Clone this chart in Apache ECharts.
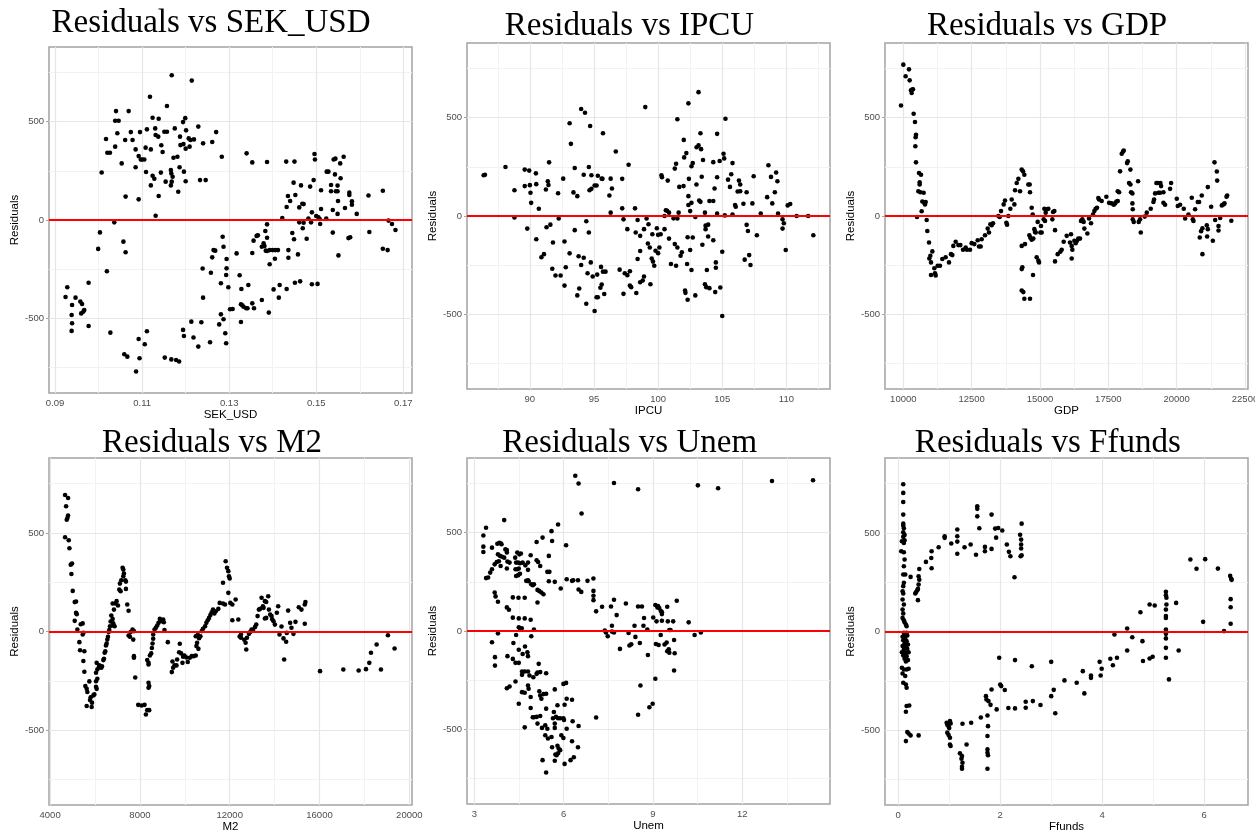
<!DOCTYPE html>
<html><head><meta charset="utf-8">
<script src="https://cdn.jsdelivr.net/npm/echarts@6/dist/echarts.min.js"></script>
<style>html,body{margin:0;padding:0;background:#fff}#c{width:1255px;height:832px}</style>
</head><body><div id="c"></div>
<script>
// ---------- DATA: [x value, residual] ----------
const sekUsdResid = [[0.1168,736],[0.1214,709],[0.1118,627],[0.1157,580],[0.1040,554],[0.1069,554],[0.1038,505],[0.1046,505],[0.1124,520],[0.1138,515],[0.1199,518],[0.1229,475],[0.1194,498],[0.1201,456],[0.1130,466],[0.1111,461],[0.1157,449],[0.1151,449],[0.1095,447],[0.1074,447],[0.1043,441],[0.1270,447],[0.1017,412],[0.1061,407],[0.1078,407],[0.1131,432],[0.1137,424],[0.1175,466],[0.1207,415],[0.1211,407],[0.1219,410],[0.1187,424],[0.1240,390],[0.1261,397],[0.1038,373],[0.1053,288],[0.1144,380],[0.1147,346],[0.1120,359],[0.1108,368],[0.1085,359],[0.1092,325],[0.1097,308],[0.1100,308],[0.1105,308],[0.1200,363],[0.1209,373],[0.1188,381],[0.1195,386],[0.1020,342],[0.1026,342],[0.1062,119],[0.1092,105],[0.1109,244],[0.1124,225],[0.1128,210],[0.1120,176],[0.1131,22],[0.1138,122],[0.1143,241],[0.1154,195],[0.1166,254],[0.1167,237],[0.1170,220],[0.1168,195],[0.1166,176],[0.1172,317],[0.1181,322],[0.1186,268],[0.1196,246],[0.1200,197],[0.1183,144],[0.1283,322],[0.1233,203],[0.1246,203],[0.1085,268],[0.1007,242],[0.1340,339],[0.1353,293],[0.1387,295],[0.1431,297],[0.1450,297],
[0.1496,336],[0.1497,308],[0.1544,312],[0.1540,308],[0.1563,322],[0.1524,246],[0.1528,246],[0.1543,232],[0.1555,288],[0.1556,212],[0.1494,203],[0.1448,190],[0.1534,178],[0.1549,175],[0.1465,176],[0.1486,170],[0.1511,151],[0.1534,146],[0.1545,146],[0.1549,146],[0.1576,139],[0.1576,127],[0.1620,125],[0.1653,149],[0.1435,122],[0.1452,127],[0.1440,97],[0.1550,97],[0.1582,95],[0.1582,78],[0.1468,83],[0.1471,81],[0.1432,66],[0.1461,64],[0.1538,51],[0.1549,31],[0.1566,61],[0.1593,31],[0.1511,56],[0.1490,39],[0.1500,20],[0.1505,14],[0.1508,5],[0.1523,8],[0.1422,10],[0.1482,8],[0.1461,-12],[0.1471,-14],[0.1488,-12],[0.1509,-20],[0.1387,-22],[0.1666,-3],[0.1674,-20],[0.1682,-51],[0.1622,-61],[0.1538,-64],[0.1469,-42],[0.1445,-66],[0.1478,-95],[0.1574,-92],[0.1578,-88],[0.1449,-98],[0.1383,-56],[0.1387,-90],[0.1363,-81],[0.1366,-78],[0.1356,-105],[0.1353,-168],[0.1379,-119],[0.1381,-132],[0.1375,-136],[0.1384,-156],[0.1387,-158],[0.1393,-153],[0.1400,-153],[0.1406,-153],[0.1412,-153],[0.1436,-153],[0.1436,-192],[0.1458,-175],[0.1551,-180],[0.1653,-146],[0.1664,-153],[0.1405,-197],[0.1393,-225],
[0.1264,-153],[0.1268,-156],[0.1285,-85],[0.1287,-136],[0.1261,-190],[0.1258,-268],[0.1294,-198],[0.1294,-246],[0.1293,-280],[0.1298,-342],[0.1281,-322],[0.1317,-170],[0.1324,-281],[0.1328,-351],[0.1344,-331],[0.1342,-449],[0.1239,-247],[0.1240,-395],[0.1302,-454],[0.1308,-453],[0.1327,-429],[0.1330,-434],[0.1333,-441],[0.1339,-449],[0.1353,-424],[0.1357,-449],[0.1327,-519],[0.1375,-407],[0.1391,-471],[0.1402,-353],[0.1416,-331],[0.1414,-395],[0.1432,-351],[0.1451,-319],[0.1463,-312],[0.1490,-327],[0.1503,-325],[0.1281,-480],[0.1287,-505],[0.1277,-531],[0.1291,-576],[0.1293,-627],[0.1236,-520],[0.1213,-517],[0.1194,-559],[0.1196,-590],[0.1218,-598],[0.1229,-644],[0.1256,-622],[0.1152,-700],[0.1167,-709],[0.1178,-712],[0.1185,-720],[0.1086,-771],[0.1094,-703],[0.1092,-605],[0.1106,-632],[0.1111,-566],[0.1059,-683],[0.1066,-695],[0.1027,-573],[0.1003,-63],[0.0999,-147],[0.1036,-12],[0.1057,-110],[0.1062,-164],[0.1019,-261],
[0.0924,-392],[0.0928,-342],[0.0939,-432],[0.0938,-483],[0.0939,-525],[0.0938,-564],[0.0947,-395],[0.0958,-415],[0.0962,-427],[0.0960,-475],[0.0965,-466],[0.0967,-458],[0.0977,-319],[0.0977,-539]];

const ipcuResid = [[86.4,207],[86.5,210],[88.1,249],[88.8,131],[88.8,-8],[89.6,236],[89.8,-64],[89.95,231],[89.6,152],[90.0,157],[90.05,118],[90.1,67],[90.47,217],[90.5,162],[90.5,-118],[90.7,37],[90.9,-210],[91.1,-194],[91.25,135],[91.3,-57],[91.4,177],[91.45,158],[91.5,273],[91.6,-44],[91.75,-268],[91.8,-135],[92.0,-303],[92.2,116],[92.25,-13],[92.4,-303],[92.6,190],[92.7,-130],[92.8,-261],[92.7,-354],[93.1,472],[93.2,367],[93.1,-190],[93.4,120],[93.5,244],[93.5,-72],[93.7,101],[93.7,-404],[93.85,-369],[93.8,-205],[94.0,544],[94.0,-249],[94.2,210],[94.2,-212],[94.3,525],[94.4,-27],[94.5,-291],[94.4,-446],[94.6,249],[94.6,-84],[94.65,131],[94.7,458],[94.8,138],[94.75,-236],[94.8,207],[94.9,-308],[95.05,-483],[95.05,155],[95.2,155],[95.2,-413],[95.25,-298],[95.3,205],[95.3,-413],[95.5,-365],[95.55,-259],[95.6,-349],[95.6,190],[95.7,421],[95.7,-283],[95.66,189],[95.8,-397],[95.9,-283],[96.2,104],[96.3,17],[96.3,190],[96.4,140],[96.7,328],[97.0,-273],[97.2,39],[97.2,189],[97.3,-17],[97.3,-396],[97.4,-291],[97.6,-67],[97.6,-301],[97.8,-281],[97.7,261],[97.8,-354],[97.9,-362],[98.2,39],[98.25,-84],[98.3,-392],[98.4,-20],[98.4,-219],[98.6,-101],[98.6,-178],[98.6,-337],[98.8,-328],[98.9,-308],[98.9,-67],[99.0,554],[99.1,-13],[99.2,-140],[99.25,-42],[99.35,-160],[99.4,-347],[99.5,-216],[99.55,-93],[99.6,-232],[99.7,-253],[99.8,-177],[99.9,-62],[100.0,-189],[100.0,-96],[100.1,-160],[100.2,-93],[100.26,207],[100.3,197],[100.5,-67],[100.5,0],[100.6,29],[100.7,27],[100.75,180],[100.85,-115],[100.85,17],[101.0,-244],[101.2,-12],[101.3,241],[101.3,-143],[101.4,-253],[101.4,266],[101.5,-13],[101.5,-160],[101.5,492],[101.6,17],[101.65,148],[101.75,-202],[101.85,-185],[101.98,152],[102.0,387],[102.03,298],[102.1,-379],[102.13,-391],[102.2,320],[102.26,-244],[102.3,-426],[102.3,-108],[102.36,573],[102.36,56],[102.36,101],[102.4,189],[102.5,25],[102.5,-173],[102.6,67],[102.6,-275],[102.6,253],[102.7,269],[102.7,-109],[102.9,-5],[102.9,-404],[102.99,160],[103.0,350],[103.15,359],[103.15,630],[103.2,79],[103.3,72],[103.3,421],[103.35,340],[103.4,200],[103.45,-146],[103.5,285],[103.65,17],[103.65,-347],[103.7,-49],[103.7,-67],[103.75,-362],[103.8,-275],[103.9,-104],[103.9,-44],[104.0,76],[104.0,-367],[104.3,-123],[104.3,76],[104.3,274],[104.4,140],[104.45,-387],[104.5,-263],[104.5,-236],[104.6,418],[104.6,197],[104.6,12],[104.8,280],[104.85,-364],[105.0,-182],[105.0,-509],[105.1,317],[105.15,293],[105.25,495],[105.2,3],[105.45,185],[105.6,148],[105.7,212],[105.8,269],[105.8,8],[106.0,56],[106.05,47],[106.2,125],[106.3,180],[106.4,126],[106.4,160],[106.65,62],[106.75,-222],[106.9,121],[106.9,-45],[107.0,-76],[107.1,-199],[107.2,-249],[107.45,202],[107.35,64],[107.7,-98],[108.0,13],[108.5,96],[108.6,258],[108.8,199],[108.9,64],[109.1,121],[109.2,221],[109.3,177],[109.35,13],[109.7,-17],[109.8,-37],[109.7,-64],[109.95,-173],[110.1,54],[110.3,61],[110.8,0],[111.7,0],[112.1,-98]];

const gdpResid = [[9915,562],[10000,770],[10085,711],[10207,746],[10232,690],[10280,640],[10305,626],[10330,643],[10354,645],[10378,520],[10427,478],[10451,401],[10464,413],[10440,355],[10464,273],[10500,-5],[10549,126],[10574,219],[10598,160],[10598,172],[10647,210],[10622,121],[10671,24],[10696,74],[10744,118],[10769,67],[10793,59],[10818,71],[10854,-20],[10878,-76],[10940,-135],[10952,-216],[10989,-202],[11013,-236],[11062,-180],[11013,-300],[11135,-266],[11159,-291],[11184,-303],[11257,-253],[11342,-253],[11427,-219],[11549,-210],[11671,-236],[11745,-194],[11793,-199],[11830,-152],[11915,-131],[12013,-148],[12086,-148],[12184,-172],[12281,-160],[12330,-172],[12440,-172],[12501,-138],[12599,-143],[12721,-123],[12769,-155],[12830,-155],[12867,-118],[12989,-98],[13087,-64],[13135,-84],[13184,-42],[13233,-47],[13282,-37],[13477,0],[13526,-5],[13575,25],[13672,59],[13721,79],[13770,-34],[13794,-44],[13843,0],[13916,37],[13965,84],[14063,59],[14087,131],[14148,168],[14209,189],[14270,126],[14331,236],[14379,227],[14428,210],[14331,-152],[14355,-261],[14331,-270],[14331,-379],[14392,-387],[14428,-421],[14452,-143],[14574,160],[14623,160],[14635,121],[14611,-98],[14647,-111],[14696,42],[14733,8],[14635,-421],[14696,-121],[14757,-115],[14794,-67],[14818,-81],[14843,-84],[14745,-300],[14879,-210],[14940,-227],[14965,-236],[14916,-30],[15013,-84],[15037,-51],[15062,-84],[15135,-17],[15184,-25],[15160,37],[15208,17],[15257,34],[15306,37],[15452,-17],[15477,20],[15526,25],[15550,-72],[15550,-231],[15648,-194],[15745,-182],[15794,-172],[15867,-131],[15977,-101],[16135,-93],[16099,-135],[16160,-152],[16160,-216],[16184,-172],[16257,-126],[16306,-138],[16355,-126],[16403,-115],[16464,-115],[16501,-25],[16550,-17],[16598,-30],[16623,-64],[16733,-89],[16794,-13],[16867,-37],[16940,8],[16989,25],[17037,37],[17086,42],[17135,91],[17160,84],[17257,76],[17428,98],[17528,67],[17625,64],[17699,57],[17748,64],[17796,74],[17845,76],[17845,126],[17894,121],[17930,227],[17991,317],[18040,328],[18065,333],[18186,269],[18211,278],[18308,236],[18259,168],[18308,160],[18332,121],[18381,115],[18381,64],[18394,34],[18394,-17],[18430,-30],[18589,177],[18613,-30],[18662,-17],[18687,-84],[18833,-3],[18906,17],[19052,37],[19150,71],[19174,84],[19211,115],[19260,168],[19309,168],[19333,118],[19394,118],[19406,168],[19431,152],[19516,121],[19516,67],[19577,57],[19760,138],[19797,168],[20004,88],[20041,51],[20126,57],[20260,37],[20309,-13],[20431,8],[20553,93],[20590,-17],[20614,-25],[20675,34],[20773,71],[20821,71],[20845,-109],[20919,104],[20894,-77],[20943,-62],[20943,-194],[21103,-47],[21140,-67],[21115,-104],[21140,147],[21262,47],[21323,-126],[21384,273],[21409,-20],[21470,226],[21482,180],[21531,-51],[21531,-74],[21592,-10],[21653,54],[21714,59],[21751,64],[21824,98],[21848,104],[22000,-24]];

const m2Resid = [[4666,692],[4800,677],[4711,635],[4770,576],[4800,588],[4740,567],[4666,478],[4829,463],[4859,422],[4918,339],[4977,345],[4948,292],[5007,206],[5096,149],[5155,152],[5155,95],[5185,88],[5096,54],[5214,10],[5363,37],[5451,41],[5481,-7],[5451,-15],[5303,-54],[5333,-95],[5525,-100],[5481,-150],[5525,-204],[5570,-277],[5629,-291],[5659,-307],[5747,-253],[5629,-378],[5777,-348],[5807,-334],[5851,-383],[5866,-361],[5925,-324],[5970,-319],[6044,-280],[6073,-291],[6044,-252],[6103,-240],[6044,-209],[6103,-193],[6162,-184],[6192,-172],[6222,-179],[6281,-184],[6310,-176],[6073,-159],[6370,-145],[6399,-138],[6429,-108],[6458,-100],[6488,-71],[6518,-61],[6547,-41],[6577,-27],[6607,-3],[6636,7],[6695,51],[6666,27],[6725,81],[6784,64],[6814,41],[6814,30],[6873,27],[6843,111],[6903,142],[6784,142],[6962,154],[7022,132],[7081,213],[7110,243],[7140,204],[7169,260],[7229,323],[7259,314],[7288,294],[7259,280],[7347,260],[7377,253],[7377,216],[7436,137],[7495,105],[7495,-20],[7555,-27],[7584,-3],[7673,10],[7733,2],[7703,-41],[7733,-125],[7733,-133],[7792,-233],[7925,-372],[8073,-375],[8206,-372],[8266,-421],[8325,-399],[8414,-399],[8384,-260],[8414,-277],[8384,-285],[8325,-145],[8384,-159],[8384,-167],[8444,-122],[8503,-111],[8533,-84],[8562,-61],[8591,-37],[8591,-15],[8651,10],[8710,19],[8769,30],[8828,44],[8887,64],[8947,52],[9036,61],[9066,47],[9095,7],[9243,-54],[9421,-206],[9480,-184],[9450,-152],[9539,-172],[9628,-172],[9657,-142],[9776,-62],[9747,-105],[9836,-111],[9895,-159],[9924,-128],[9983,-122],[10072,-132],[10131,-155],[10220,-133],[10309,-125],[10398,-125],[10487,-122],[10517,-74],[10547,-57],[10487,-24],[10576,-17],[10606,-88],[10635,-34],[10694,-24],[10754,2],[10813,14],[10902,27],[10961,44],[11020,57],[11080,69],[11139,84],[11198,98],[11257,111],[11316,91],[11376,103],[11494,115],[11553,145],[11701,142],[11790,137],[11701,247],[11820,356],[11879,323],[11938,306],[11968,280],[11998,269],[11938,196],[12027,145],[12116,137],[12116,57],[12264,162],[12383,61],[12442,-25],[12501,-32],[12501,-15],[12649,-42],[12708,-57],[12738,-91],[12768,-32],[12857,-12],[12916,-2],[12975,10],[13034,5],[13123,22],[13182,35],[13241,78],[13300,111],[13359,115],[13419,171],[13478,128],[13508,120],[13567,154],[13626,150],[13567,66],[13626,69],[13715,179],[13745,111],[13804,86],[13863,78],[13893,62],[13952,52],[14011,35],[14100,95],[14159,128],[14218,-15],[14307,25],[14396,-35],[14425,-142],[14514,-52],[14543,-7],[14603,106],[14692,44],[14751,19],[14840,-12],[14929,49],[15077,123],[15195,111],[15344,137],[15373,150],[15344,39],[16024,-201],[17061,-193],[17744,-198],[18070,-191],[18218,-159],[18292,-108],[18544,-66],[18737,-193],[19048,-19],[19344,-86]];

const unemResid = [[3.30,486],[3.30,429],[3.30,402],[3.39,525],[4.0,564],[3.59,424],[3.77,444],[3.84,449],[3.91,441],[3.88,446],[3.39,269],[3.46,272],[3.53,297],[3.59,314],[3.68,339],[3.75,351],[3.82,355],[3.88,331],[3.79,390],[3.86,382],[3.93,378],[4.0,373],[4.04,415],[4.09,399],[4.09,412],[4.11,353],[4.18,348],[4.09,318],[4.37,373],[4.44,399],[4.51,390],[4.56,394],[4.40,348],[4.47,348],[4.53,345],[4.38,314],[4.44,314],[4.49,318],[4.40,280],[4.47,284],[4.53,291],[4.62,348],[4.71,334],[4.80,348],[4.80,311],[4.74,255],[4.80,258],[4.82,253],[4.89,385],[4.91,238],[4.96,233],[5.00,238],[5.09,453],[5.09,360],[5.21,331],[5.14,351],[5.12,209],[5.18,203],[5.25,196],[5.32,187],[5.12,145],[5.29,475],[5.50,382],[5.45,301],[5.52,301],[5.50,253],[5.59,508],[5.61,458],[5.81,542],[5.70,250],[5.90,216],[6.08,436],[6.10,263],[6.28,255],[6.32,258],[6.48,258],[6.50,211],[6.59,199],[6.60,598],[6.80,255],[7.00,267],[7.00,204],[7.00,179],[7.00,157],[7.09,100],[7.29,123],[3.68,196],[3.71,176],[3.79,149],[4.09,120],[4.16,108],[4.29,171],[4.48,169],[4.69,169],[4.29,68],[4.49,64],[4.69,64],[4.89,57],[4.49,19],[4.53,14],[4.59,14],[4.40,-20],[5.0,7],[4.91,-27],[3.79,-12],[3.59,-57],[3.69,-133],[3.69,-176],[4.11,-128],[4.29,-142],[4.31,-61],[4.49,-95],[4.38,-162],[4.49,-162],[4.62,-117],[4.70,-79],[4.78,-108],[4.80,-128],[4.60,-206],[4.60,-223],[4.69,-206],[4.80,-206],[4.85,-226],[4.98,-235],[5.09,-218],[5.16,-167],[5.21,-209],[5.12,-211],[5.41,-215],[4.09,-291],[4.18,-282],[4.38,-257],[4.49,-370],[4.60,-311],[4.69,-314],[4.80,-277],[4.82,-294],[4.89,-336],[5.18,-307],[5.25,-345],[5.21,-328],[5.32,-321],[5.41,-319],[5.70,-297],[4.89,-392],[5.0,-439],[5.09,-437],[5.21,-432],[4.69,-490],[4.96,-439],[5.12,-471],[5.27,-493],[5.41,-395],[5.38,-480],[5.45,-497],[5.67,-412],[5.74,-437],[5.79,-378],[5.81,-444],[5.88,-444],[5.99,-269],[6.08,-264],[6.03,-375],[6.10,-345],[6.28,-350],[5.99,-444],[6.01,-453],[5.64,-444],[5.70,-471],[5.70,-493],[5.38,-530],[5.47,-547],[5.59,-539],[5.92,-530],[5.99,-544],[6.10,-497],[6.30,-459],[6.50,-483],[6.28,-561],[6.48,-591],[5.61,-591],[5.79,-584],[5.83,-598],[5.88,-606],[5.72,-628],[5.76,-632],[5.81,-622],[5.29,-657],[5.70,-660],[5.41,-720],[6.03,-676],[6.23,-657],[6.34,-642],[7.09,-440],
[7.38,2],[7.42,-7],[7.48,-27],[7.59,125],[7.69,159],[7.78,81],[7.89,-91],[7.62,27],[7.62,-3],[7.69,-7],[8.09,140],[8.18,-10],[8.21,-74],[8.27,-68],[8.38,27],[8.41,-30],[8.50,125],[8.56,-61],[8.63,125],[8.68,27],[8.70,66],[8.81,7],[8.83,-122],[9.08,132],[9.15,120],[9.01,69],[8.58,-277],[8.50,-426],[8.88,-388],[8.99,-370],[9.10,-66],[9.08,-243],
[6.39,790],[6.50,750],[7.69,753],[8.50,721],[10.51,741],[11.19,726],[13.0,763],[14.38,767],
[9.12,49],[9.17,127],[9.21,117],[9.26,103],[9.30,96],[9.30,86],[9.19,-71],[9.26,-20],[9.30,52],[9.39,-69],[9.46,-59],[9.48,-103],[9.53,-93],[9.55,-110],[9.48,123],[9.50,49],[9.55,5],[9.59,5],[9.68,49],[9.71,-46],[9.73,-113],[9.71,-201],[9.80,154],[10.20,44],[10.40,-20],[10.61,-8]];

const ffundsResid = [[0.098,747],[0.098,703],[0.098,657],[0.098,593],[0.098,547],[0.098,537],[0.11,524],[0.098,503],[0.124,490],[0.098,480],[0.072,458],[0.124,463],[0.11,449],[0.059,407],[0.11,402],[0.124,365],[0.11,331],[0.137,289],[0.098,289],[0.11,247],[0.098,230],[0.085,204],[0.098,193],[0.085,162],[0.11,137],[0.085,111],[0.098,91],[0.085,69],[0.11,57],[0.124,47],[0.15,35],[0.164,27],[0.11,-7],[0.164,-7],[0.124,-17],[0.177,-20],[0.085,-27],[0.137,-32],[0.098,-44],[0.164,-49],[0.124,-61],[0.19,-66],[0.085,-74],[0.15,-78],[0.11,-91],[0.177,-88],[0.072,-105],[0.137,-108],[0.203,-105],[0.098,-122],[0.164,-125],[0.124,-138],[0.19,-145],[0.15,-152],[0.072,-184],[0.11,-193],[0.164,-193],[0.203,-189],[0.085,-213],[0.137,-226],[0.098,-260],[0.15,-269],[0.164,-285],[0.164,-378],[0.15,-407],[0.216,-375],[0.177,-510],[0.203,-517],[0.242,-527],[0.15,-556],[0.40,-527],[0.242,277],
[0.334,193],[0.347,199],[0.373,209],[0.386,216],[0.399,238],[0.412,263],[0.399,280],[0.412,317],[0.386,159],[0.543,353],[0.648,373],[0.654,321],[0.654,407],[0.792,427],[0.910,475],[0.910,483],[1.04,446],[1.158,517],[1.158,483],[1.158,456],[1.158,394],[1.30,427],[1.42,441],[1.525,389],[1.55,635],[1.55,622],[1.55,584],[1.59,524],[1.70,429],[1.70,407],[1.83,419],[1.83,593],[1.92,476],[1.90,522],[1.96,525],[2.04,512],[2.13,441],
[0.949,-463],[0.962,-473],[0.988,-483],[1.014,-454],[1.027,-466],[1.0,-490],[0.962,-513],[0.988,-525],[1.014,-539],[1.014,-573],[1.027,-581],[1.21,-618],[1.25,-632],[1.24,-645],[1.26,-666],[1.25,-686],[1.25,-696],[1.26,-468],[1.34,-573],[1.43,-463],[1.62,-436],[1.75,-426],[1.76,-480],[1.75,-530],[1.75,-598],[1.75,-615],[1.76,-628],[1.75,-696],[1.73,-345],[1.77,-353],[1.81,-372],[1.72,-328],[1.83,-294],[1.93,-395],[1.98,-133],[2.0,-269],[2.02,-277],[2.09,-297],[2.16,-388],
[2.17,404],[2.20,382],[2.28,275],[2.39,491],[2.41,466],[2.41,441],[2.41,421],[2.40,382],[2.42,387],[2.42,547],[2.29,-145],[2.29,-390],[2.50,-356],[2.50,-387],[2.62,-176],[2.64,-353],[2.79,-373],[3.0,-154],[3.0,-328],[3.05,-296],[3.08,-415],[3.26,-248],[3.50,-260],[3.62,-201],[3.65,-314],[3.78,-223],[3.78,-235],[3.95,-154],[3.97,-223],[3.99,-189],[4.16,-138],[4.21,-171],[4.24,-15],[4.29,-133],[4.49,15],[4.49,-96],[4.59,-29],[4.75,98],[4.79,-49],[4.80,-150],[4.93,137],[4.93,-137],[4.99,-128],[5.03,132],[5.25,201],[5.25,184],[5.26,171],[5.26,137],[5.25,111],[5.25,78],[5.25,69],[5.25,10],[5.25,-2],[5.25,-12],[5.25,-35],[5.25,-83],[5.25,-133],[5.31,-243],[5.45,145],[5.50,-96],[5.73,365],[5.85,318],[5.98,49],[6.02,367],[6.27,319],[6.39,2],[6.51,282],[6.53,267],[6.54,262],[6.52,164],[6.52,123],[6.52,39]];

// tick labels
const sekTicks = [0.09, 0.11, 0.13, 0.15, 0.17];
const ipcuTicks = [90, 95, 100, 105, 110];
const gdpTicks = [10000, 12500, 15000, 17500, 20000, 22500];
const m2Ticks = [4000, 8000, 12000, 16000, 20000];
const unemTicks = [3, 6, 9, 12];
const ffundsTicks = [0, 2, 4, 6];
const residTicks = [-500, 0, 500];
const residMinor = [-750, -250, 250, 750];
const variableNames = ['SEK_USD', 'IPCU', 'GDP', 'M2', 'Unem', 'Ffunds'];

// ---------- LAYOUT ----------
const panels = [
  {name: variableNames[0], data: sekUsdResid, ticks: sekTicks, minor: [0.10, 0.12, 0.14, 0.16], xMin: 0.0886, xMax: 0.172,
   grid: {left: 49, top: 47, width: 363, height: 346}, tx: 211, ty: 7},
  {name: variableNames[1], data: ipcuResid, ticks: ipcuTicks, minor: [87.5, 92.5, 97.5, 102.5, 107.5, 112.5], xMin: 85.1, xMax: 113.4,
   grid: {left: 467, top: 43, width: 363, height: 346}, tx: 629.5, ty: 10},
  {name: variableNames[2], data: gdpResid, ticks: gdpTicks, minor: [11250, 13750, 16250, 18750, 21250], xMin: 9330, xMax: 22610,
   grid: {left: 885, top: 43, width: 363, height: 346}, tx: 1047, ty: 10},
  {name: variableNames[3], data: m2Resid, ticks: m2Ticks, minor: [6000, 10000, 14000, 18000], xMin: 3950, xMax: 20120,
   grid: {left: 49, top: 458, width: 363, height: 347}, tx: 212, ty: 427},
  {name: variableNames[4], data: unemResid, ticks: unemTicks, minor: [4.5, 7.5, 10.5, 13.5], xMin: 2.75, xMax: 14.95,
   grid: {left: 467, top: 458, width: 363, height: 346}, tx: 629.7, ty: 427},
  {name: variableNames[5], data: ffundsResid, ticks: ffundsTicks, minor: [1, 3, 5], xMin: -0.26, xMax: 6.86,
   grid: {left: 885, top: 458, width: 363, height: 347}, tx: 1047.8, ty: 427}
];

const SANS = "'Liberation Sans', Arial, Helvetica, sans-serif";
const SERIF = "'Liberation Serif', 'Times New Roman', serif";
const tickColor = '#4d4d4d';
const borderColor = '#a3a3a3';

const option = {
  animation: false,
  backgroundColor: '#ffffff',
  title: [], grid: [], xAxis: [], yAxis: [], series: []
};

panels.forEach((p, i) => {
  option.title.push({
    text: 'Residuals vs ' + p.name,
    left: p.tx, top: p.ty, textAlign: 'center', padding: 0,
    textStyle: {fontFamily: SERIF, fontSize: 33, fontWeight: 'normal', color: '#000', lineHeight: 33}
  });
  option.grid.push(Object.assign({show: true, borderColor: borderColor, borderWidth: 1.5,
    backgroundColor: '#fff', containLabel: false, outerBoundsMode: 'none'}, p.grid));
  option.xAxis.push({
    type: 'value', gridIndex: i, min: p.xMin, max: p.xMax,
    name: p.name, nameLocation: 'middle', nameGap: 16,
    nameTextStyle: {fontFamily: SANS, fontSize: 11.5, color: '#000'},
    axisLine: {show: false},
    axisTick: {show: true, customValues: p.ticks, length: 3, lineStyle: {color: borderColor, width: 1}},
    axisLabel: {show: true, customValues: p.ticks, margin: 5, fontFamily: SANS, fontSize: 9.5, color: tickColor,
      formatter: v => String(v)},
    splitLine: {show: false}, minorSplitLine: {show: false}
  });
  option.yAxis.push({
    type: 'value', gridIndex: i, min: -880, max: 880,
    name: 'Residuals', nameLocation: 'middle', nameGap: 27, nameRotate: 90,
    nameTextStyle: {fontFamily: SANS, fontSize: 11.5, color: '#000'},
    axisLine: {show: false},
    axisTick: {show: true, customValues: residTicks, length: 3, lineStyle: {color: borderColor, width: 1}},
    axisLabel: {show: true, customValues: residTicks, margin: 5, fontFamily: SANS, fontSize: 9.5, color: tickColor,
      formatter: v => String(v)},
    splitLine: {show: false}
  });
  const gl = [];
  p.minor.forEach(v => gl.push({xAxis: v, lineStyle: {color: '#f2f2f2', width: 1, type: 'solid'}}));
  residMinor.forEach(v => gl.push({yAxis: v, lineStyle: {color: '#f2f2f2', width: 1, type: 'solid'}}));
  p.ticks.forEach(v => { if (v > p.xMin && v < p.xMax) gl.push({xAxis: v, lineStyle: {color: '#e6e6e6', width: 1.2, type: 'solid'}}); });
  residTicks.forEach(v => gl.push({yAxis: v, lineStyle: {color: '#e6e6e6', width: 1.2, type: 'solid'}}));
  option.series.push({
    type: 'line', xAxisIndex: i, yAxisIndex: i, data: [], silent: true, z: 1,
    markLine: {silent: true, z: 1, symbol: ['none', 'none'], label: {show: false}, animation: false, data: gl}
  });
  option.series.push({
    type: 'scatter', xAxisIndex: i, yAxisIndex: i, data: p.data, symbolSize: 4.6, z: 3,
    itemStyle: {color: '#000', opacity: 1}, silent: true
  });
  option.series.push({
    type: 'line', xAxisIndex: i, yAxisIndex: i, data: [], silent: true, z: 4,
    markLine: {silent: true, z: 4, symbol: ['none', 'none'], label: {show: false}, animation: false,
      lineStyle: {color: '#ff0000', width: 2.2, type: 'solid'}, data: [{yAxis: 0}]}
  });
});

const chart = echarts.init(document.getElementById('c'), null, {renderer: 'canvas'});
chart.setOption(option);
</script>
</body></html>
